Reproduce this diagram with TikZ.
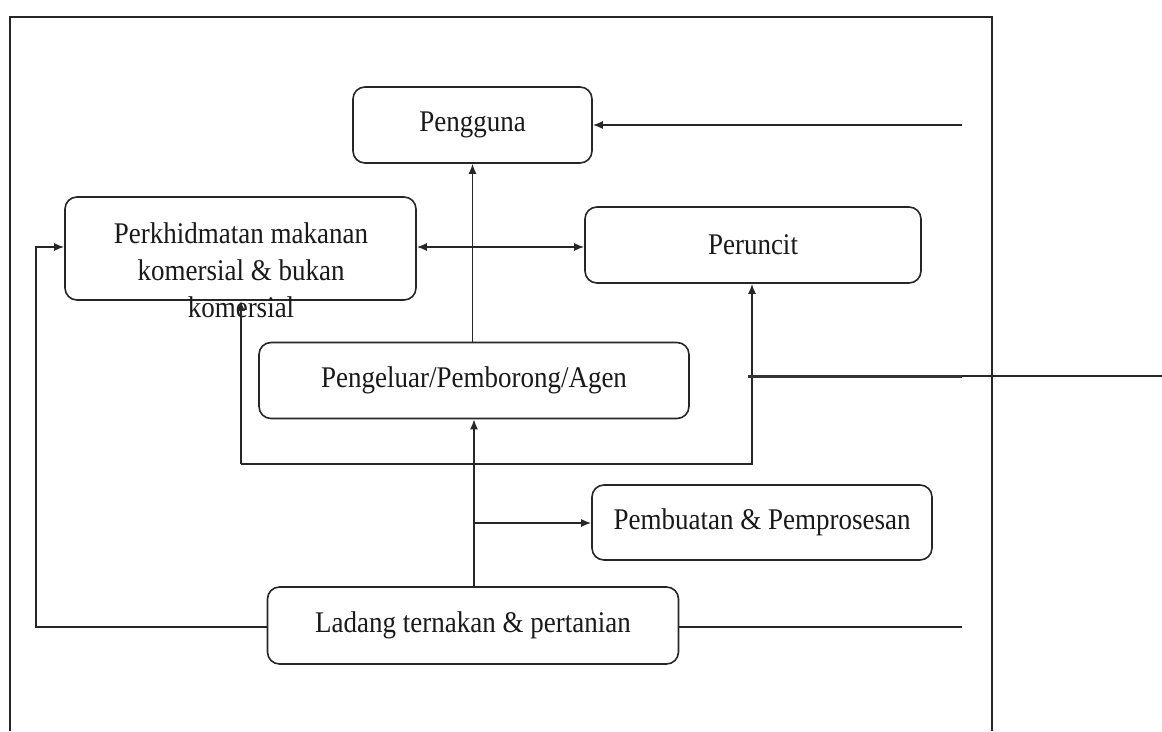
\documentclass[tikz,border=0pt]{standalone}
\usepackage{fontspec}
\setmainfont{Liberation Serif}[FakeStretch=0.9]
\usetikzlibrary{arrows.meta}
\begin{document}
\begin{tikzpicture}[x=1pt,y=-1pt,
  box/.style={draw=black!85, rounded corners=12pt, line width=1.6pt, inner sep=0pt,
    text=black!90, font=\fontsize{30}{37}\selectfont},
  txt/.style={text=black!90, font=\fontsize{30}{37}\selectfont, inner sep=0pt},
  conn/.style={draw=black!85, line width=1.6pt},
  arr/.style={conn, -{Latex[length=10pt,width=8pt]}},
  darr/.style={conn, {Latex[length=10pt,width=8pt]}-{Latex[length=10pt,width=8pt]}}]
\useasboundingbox (0,0) rectangle (1162,731);
% frame
\draw[conn] (10,731) -- (10,17) -- (992,17) -- (992,731);
% boxes
\node[box, minimum width=239pt, minimum height=76pt] (peng) at (472.5,125) {Pengguna};
\node[box, minimum width=351pt, minimum height=103pt] (perk) at (240.5,248.5) {};
\node[txt, align=center] (perkt) at (241,270) {Perkhidmatan makanan\\komersial \& bukan\\komersial};
\node[box, minimum width=336pt, minimum height=76pt] (run) at (753,245) {Peruncit};
\node[box, minimum width=430pt, minimum height=76pt] (agen) at (474,380.5) {Pengeluar/Pemborong/Agen};
\node[box, minimum width=340pt, minimum height=75pt] (buat) at (762,522.5) {Pembuatan \& Pemprosesan};
\node[box, minimum width=411pt, minimum height=77pt] (lad) at (473,625.5) {Ladang ternakan \& pertanian};
% coordinates
\coordinate (pin) at (962,125);
\coordinate (lcorner1) at (36,627);
\coordinate (lcorner2) at (36,247);
\coordinate (bl) at (241,464);
\coordinate (br) at (752,464);
\coordinate (rj) at (748,376);
\coordinate (rm) at (962,376);
\coordinate (rout) at (1162,376);
\coordinate (lout) at (962,627);
\coordinate (branch) at (473,523);
% connectors
\draw[arr] (pin) -- (peng.east |- pin);
\draw[arr] (agen.north -| peng.south) -- (peng.south);
\draw[arr] (lad.north -| agen.south) -- (agen.south);
\draw[arr] (branch) -- (buat.west |- branch);
\draw[darr] (perk.east |- 0,247) -- (run.west |- 0,247);
\draw[arr] (lad.west |- lcorner1) -- (lcorner1) -- (lcorner2) -- (perk.west |- lcorner2);
\draw[arr] (bl) -- (perk.south -| bl);
\draw[arr] (bl) -- (br) -- (run.south -| br);
\draw[draw=black!80, line width=3pt] (rj) -- (rm);
\draw[conn] (rm) -- (rout);
\draw[conn] (lad.east |- lout) -- (lout);
\end{tikzpicture}
\end{document}
